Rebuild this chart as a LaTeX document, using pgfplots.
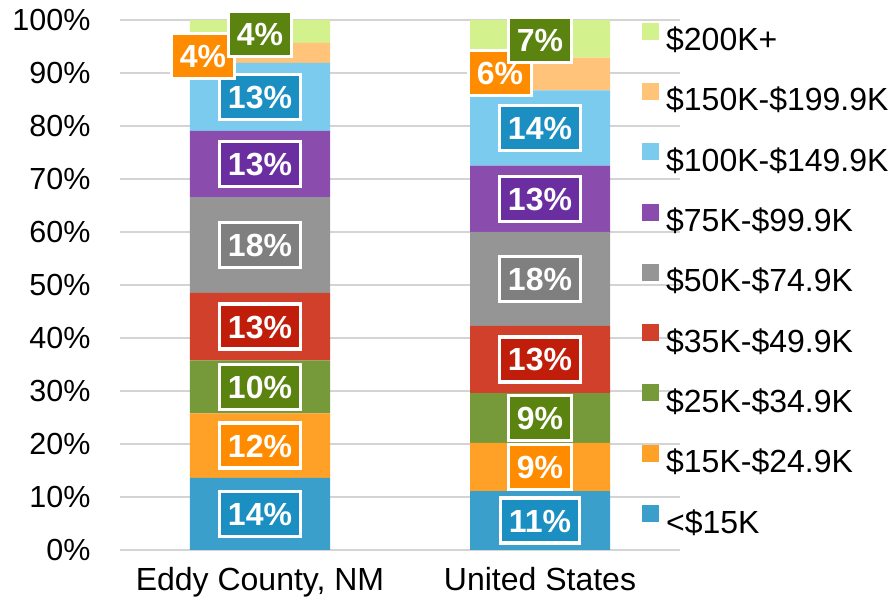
\documentclass[border=0pt]{standalone}
\usepackage{pgfplots}
\pgfplotsset{compat=1.18}
\usepackage{pgfplotstable}
\usepackage{fontspec}
\setmainfont{Liberation Sans}
\definecolor{gridc}{HTML}{D4D4D4}
\definecolor{cA}{HTML}{3B9FCC}
\definecolor{cB}{HTML}{FFA126}
\definecolor{cC}{HTML}{76993A}
\definecolor{cD}{HTML}{D0402B}
\definecolor{cE}{HTML}{959595}
\definecolor{cF}{HTML}{8A4CAD}
\definecolor{cG}{HTML}{7ACBEE}
\definecolor{cH}{HTML}{FFC47A}
\definecolor{cI}{HTML}{D3F28E}
\definecolor{lA}{HTML}{1B8FC2}
\definecolor{lB}{HTML}{FF8C00}
\definecolor{lC}{HTML}{5A8310}
\definecolor{lD}{HTML}{C01E0A}
\definecolor{lE}{HTML}{7F7F7F}
\definecolor{lF}{HTML}{6A2EA0}
\pgfplotstableread{
x   a0   a15  a25  a35  a50  a75  a100 a150 a200
0   13.6 12.2 10.0 12.7 18.1 12.5 12.8 3.8  4.3
1   11.1 9.1  9.4  12.7 17.7 12.5 14.2 6.2  7.1
}\incdata
\begin{document}
\begin{tikzpicture}[
  lbl/.style={draw=white, line width=3.5bp, text=white,
    font=\fontsize{32bp}{38bp}\selectfont\bfseries,
    inner xsep=8.5bp, inner ysep=11bp, text height=23bp, text depth=0bp, anchor=center}]
\begin{axis}[name=ax, scale only axis, width=560bp, height=530bp,
  ybar stacked, bar width=140bp,
  xmin=-0.5, xmax=1.5, ymin=0, ymax=100,
  xtick={0,1}, xticklabels={{Eddy County, NM},{United States}},
  ytick={0,10,...,100}, yticklabel={\pgfmathprintnumber{\tick}\%},
  /pgf/number format/assume math mode=true,
  ymajorgrids, grid style={color=gridc, line width=1.5bp},
  axis line style={draw=none}, major tick length=0pt,
  xticklabel style={font=\fontsize{32bp}{38bp}\selectfont, yshift=-14bp},
  yticklabel style={font=\fontsize{30.5bp}{36bp}\selectfont, xshift=-26bp},
  reverse legend,
  legend style={draw=none, fill=none, at={(rel axis cs:0.932,0.506)}, anchor=west,
    font=\fontsize{32bp}{38bp}\selectfont, inner sep=0pt, row sep=24.3bp, column sep=0bp,
    nodes={inner sep=0pt, text height=24bp, text depth=8bp},
    /tikz/every odd column/.style={column sep=7bp}},
  legend cell align=left,
  legend image code/.code={\fill[#1] (0bp,3bp) rectangle (17bp,20bp);},
]
\addplot[fill=cA, draw=none] table[x=x, y=a0] {\incdata};
\addlegendentry{<\$15K}
\addplot[fill=cB, draw=none] table[x=x, y=a15] {\incdata};
\addlegendentry{\$15K-\$24.9K}
\addplot[fill=cC, draw=none] table[x=x, y=a25] {\incdata};
\addlegendentry{\$25K-\$34.9K}
\addplot[fill=cD, draw=none] table[x=x, y=a35] {\incdata};
\addlegendentry{\$35K-\$49.9K}
\addplot[fill=cE, draw=none] table[x=x, y=a50] {\incdata};
\addlegendentry{\$50K-\$74.9K}
\addplot[fill=cF, draw=none] table[x=x, y=a75] {\incdata};
\addlegendentry{\$75K-\$99.9K}
\addplot[fill=cG, draw=none] table[x=x, y=a100] {\incdata};
\addlegendentry{\$100K-\$149.9K}
\addplot[fill=cH, draw=none] table[x=x, y=a150] {\incdata};
\addlegendentry{\$150K-\$199.9K}
\addplot[fill=cI, draw=none] table[x=x, y=a200] {\incdata};
\addlegendentry{\$200K+}
\end{axis}
\begin{axis}[at={(ax.south west)}, anchor=south west, scale only axis,
  width=560bp, height=530bp, xmin=-0.5, xmax=1.5, ymin=0, ymax=100,
  hide axis, clip=false]
\addplot[draw=none, mark=none, nodes near coords, point meta=explicit symbolic,
  nodes near coords style={lbl, fill=lA}]
  coordinates {(0,6.8) [14\%] (1,5.55) [11\%] (0,85.5) [13\%] (1,79.6) [14\%]};
\addplot[draw=none, mark=none, nodes near coords, point meta=explicit symbolic,
  nodes near coords style={lbl, fill=lB}]
  coordinates {(0,19.7) [12\%] (1,15.65) [9\%] (-0.204,93.2) [4\%] (0.857,90.0) [6\%]};
\addplot[draw=none, mark=none, nodes near coords, point meta=explicit symbolic,
  nodes near coords style={lbl, fill=lC}]
  coordinates {(0,30.8) [10\%] (1,24.9) [9\%] (0,97.4) [4\%] (1,96.2) [7\%]};
\addplot[draw=none, mark=none, nodes near coords, point meta=explicit symbolic,
  nodes near coords style={lbl, fill=lD}]
  coordinates {(0,42.15) [13\%] (1,35.95) [13\%]};
\addplot[draw=none, mark=none, nodes near coords, point meta=explicit symbolic,
  nodes near coords style={lbl, fill=lE}]
  coordinates {(0,57.55) [18\%] (1,51.15) [18\%]};
\addplot[draw=none, mark=none, nodes near coords, point meta=explicit symbolic,
  nodes near coords style={lbl, fill=lF}]
  coordinates {(0,72.85) [13\%] (1,66.25) [13\%]};
\end{axis}
\pgfresetboundingbox
\path[use as bounding box] ([xshift=-120bp,yshift=-54bp]ax.south west) rectangle ([xshift=209bp,yshift=20bp]ax.north east);
\end{tikzpicture}
\end{document}
